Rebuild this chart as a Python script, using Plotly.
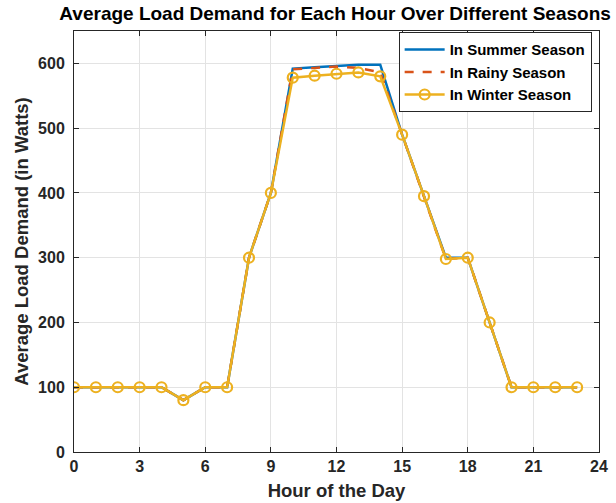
import plotly.graph_objects as go

hours = list(range(24))
summer = [100, 100, 100, 100, 100, 80, 100, 100, 300, 400, 592, 594, 596, 598, 598,
          490, 395, 300, 300, 200, 100, 100, 100, 100]
rainy = [100, 100, 100, 100, 100, 80, 100, 100, 300, 400, 591, 593, 595, 593, 586,
         490, 395, 298, 300, 200, 100, 100, 100, 100]
winter = [100, 100, 100, 100, 100, 80, 100, 100, 300, 400, 578, 581, 584, 586, 580,
          490, 395, 298, 300, 200, 100, 100, 100, 100]
x_ticks = [0, 3, 6, 9, 12, 15, 18, 21, 24]
y_ticks = [0, 100, 200, 300, 400, 500, 600]

FONT = "Liberation Sans, Arial, sans-serif"
TXT = "#262626"

fig = go.Figure()
fig.add_trace(go.Scatter(x=hours, y=summer, mode="lines", name="<b>In Summer Season</b>",
                         line=dict(color="#0072BD", width=2.5)))
fig.add_trace(go.Scatter(x=hours, y=rainy, mode="lines", name="<b>In Rainy Season</b>",
                         line=dict(color="#D95319", width=2.5, dash="dash")))
fig.add_trace(go.Scatter(x=hours, y=winter, mode="lines+markers", name="<b>In Winter Season</b>",
                         line=dict(color="#EDB120", width=2.5),
                         marker=dict(symbol="circle-open", size=10, color="#EDB120",
                                     line=dict(width=2.2, color="#EDB120"))))

axis_common = dict(showgrid=True, gridcolor="#e3e3e3", gridwidth=1,
                   showline=True, linecolor=TXT, linewidth=1, mirror="ticks",
                   ticks="inside", ticklen=5, tickcolor=TXT, zeroline=False,
                   automargin=False,
                   tickfont=dict(family=FONT, size=16, color=TXT))

fig.update_layout(
    width=616, height=503,
    margin=dict(l=74, r=17, t=31, b=51),
    paper_bgcolor="white", plot_bgcolor="white",
    title=dict(text="<b>Average Load Demand for Each Hour Over Different Seasons</b>",
               x=0.544, xanchor="center", y=0.986, yanchor="top",
               font=dict(family=FONT, size=19, color="black")),
    xaxis=dict(range=[0, 24], tickvals=x_ticks, ticktext=[f"<b>{v}</b>" for v in x_ticks],
               title=dict(text="<b>Hour of the Day</b>", standoff=9,
                          font=dict(family=FONT, size=18.5, color=TXT)),
               **axis_common),
    yaxis=dict(range=[0, 650], tickvals=y_ticks, ticktext=[f"<b>{v}</b>" for v in y_ticks],
               ticklabelstandoff=5,
               title=dict(text="<b>Average Load Demand (in Watts)</b>", standoff=4,
                          font=dict(family=FONT, size=18.5, color=TXT)),
               **axis_common),
    legend=dict(x=0.986, y=0.997, xanchor="right", yanchor="top",
                bgcolor="white", bordercolor=TXT, borderwidth=1,
                font=dict(family=FONT, size=15, color="black"),
                tracegroupgap=0, itemwidth=40),
    showlegend=True,
)

fig.write_html("out.html", post_script="document.body.style.margin='0';",
               config={"displayModeBar": False})
